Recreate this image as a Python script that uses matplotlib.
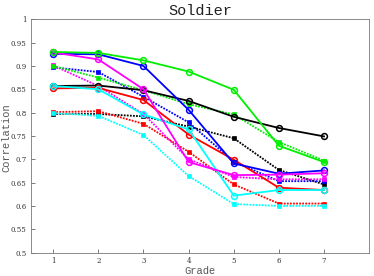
import matplotlib
matplotlib.use("Agg")
import matplotlib.pyplot as plt

grades = [1, 2, 3, 4, 5, 6, 7]

green_solid = [0.930, 0.928, 0.912, 0.888, 0.849, 0.729, 0.694]
green_dot = [0.900, 0.875, 0.848, 0.818, 0.796, 0.737, 0.697]
blue_solid = [0.926, 0.925, 0.900, 0.806, 0.691, 0.669, 0.676]
blue_dot = [0.897, 0.887, 0.834, 0.779, 0.695, 0.653, 0.653]
magenta_solid = [0.929, 0.914, 0.850, 0.694, 0.666, 0.667, 0.670]
magenta_dot = [0.901, 0.857, 0.797, 0.700, 0.662, 0.657, 0.657]
black_solid = [0.857, 0.858, 0.848, 0.825, 0.791, 0.767, 0.749]
black_dot = [0.797, 0.797, 0.792, 0.770, 0.745, 0.677, 0.646]
red_solid = [0.852, 0.853, 0.827, 0.753, 0.699, 0.639, 0.634]
red_dot = [0.801, 0.803, 0.776, 0.716, 0.646, 0.605, 0.605]
cyan_solid = [0.857, 0.850, 0.796, 0.764, 0.622, 0.634, 0.634]
cyan_dot = [0.799, 0.793, 0.752, 0.664, 0.604, 0.600, 0.600]

fig = plt.figure(figsize=(3.74, 2.76), dpi=100)
ax = fig.add_axes([0.082, 0.085, 0.905, 0.845])

dotted = [(black_dot, 'black'), (red_dot, 'red'), (cyan_dot, 'cyan'),
          (blue_dot, 'blue'), (magenta_dot, 'magenta'), (green_dot, '#00ee00')]
solid = [(black_solid, 'black'), (red_solid, 'red'), (cyan_solid, 'cyan'),
         (blue_solid, 'blue'), (magenta_solid, 'magenta'), (green_solid, '#00ee00')]

for vals, c in dotted:
    ax.plot(grades, vals, linestyle=(0, (1, 0.7)), color=c, linewidth=1.3,
            marker='s', markersize=2.3, markeredgewidth=0.5)
for vals, c in solid:
    ax.plot(grades, vals, linestyle='-', color=c, linewidth=1.3,
            marker='o', markersize=4.2, markerfacecolor='none', markeredgewidth=1.1)

ax.set_xlim(0.5, 8)
ax.set_ylim(0.5, 1.0)
ax.set_xticks(grades)
ax.set_yticks([0.5, 0.55, 0.6, 0.65, 0.7, 0.75, 0.8, 0.85, 0.9, 0.95, 1.0])
ax.set_yticklabels(['0.5', '0.55', '0.6', '0.65', '0.7', '0.75', '0.8', '0.85', '0.9', '0.95', '1'])
ax.tick_params(direction='in', length=3, width=0.6, colors='#666666', labelsize=5,
               top=False, right=False, pad=3)
for lbl in ax.get_xticklabels() + ax.get_yticklabels():
    lbl.set_family('DejaVu Serif')
    lbl.set_color('#333333')
for s in ax.spines.values():
    s.set_color('#777777')
    s.set_linewidth(0.6)

ax.set_xlabel('Grade', family='Liberation Mono', fontsize=7.5, color='#555555', labelpad=1)
fig.text(0.018, 0.5, 'Correlation', family='Liberation Mono', fontsize=7.5,
         color='#555555', rotation=90, ha='center', va='center')
ax.set_title('Soldier', family='Liberation Mono', fontsize=11, color='#222222', pad=3)

fig.savefig('out.png', dpi=100)
